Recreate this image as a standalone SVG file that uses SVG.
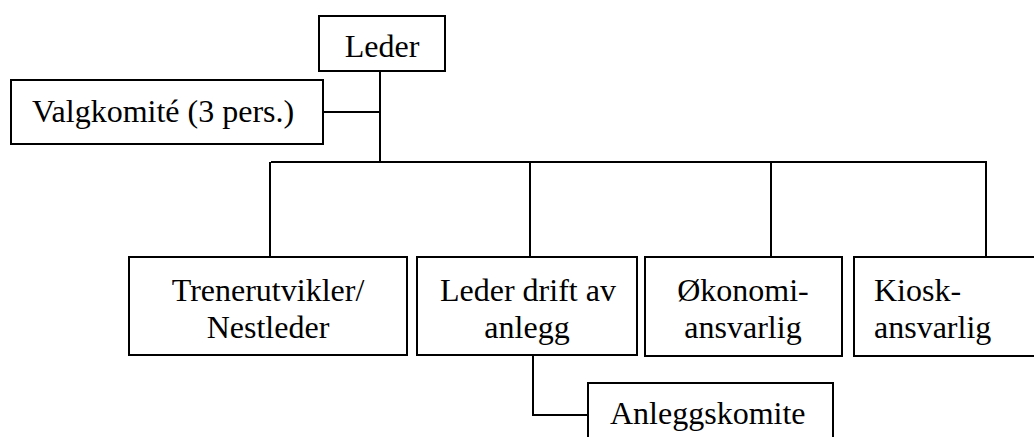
<svg xmlns="http://www.w3.org/2000/svg" width="1034" height="437" viewBox="0 0 1034 437">
<style>
.box{fill:#fff;stroke:#000;stroke-width:2}
.t{font-family:"Liberation Serif","Times New Roman",serif;font-size:32px;fill:#000}
.c{fill:none;stroke:#000;stroke-width:2}
</style>
<rect width="1034" height="437" fill="#fff"/>
<g id="connectors">
<path class="c" d="M380,71 V162"/>
<path class="c" d="M323,112 H380"/>
<path class="c" d="M271,162 H987"/>
<path class="c" d="M270,162 V257"/>
<path class="c" d="M530,162 V257"/>
<path class="c" d="M771,162 V257"/>
<path class="c" d="M986,162 V257"/>
<path class="c" d="M533,355 V415 H588"/>
</g>
<g id="leder">
<rect class="box" x="319" y="16" width="126" height="55"/>
<text class="t" x="382" y="57" text-anchor="middle">Leder</text>
</g>
<g id="valgkomite">
<rect class="box" x="11" y="80" width="312" height="64"/>
<text class="t" x="32" y="122">Valgkomité (3 pers.)</text>
</g>
<g id="trenerutvikler">
<rect class="box" x="129" y="257" width="278" height="98"/>
<text class="t" x="268" y="301" text-anchor="middle">Trenerutvikler/</text>
<text class="t" x="268" y="338" text-anchor="middle">Nestleder</text>
</g>
<g id="leder-drift">
<rect class="box" x="417" y="257" width="220" height="98"/>
<text class="t" x="440" y="301">Leder drift av</text>
<text class="t" x="527" y="338" text-anchor="middle">anlegg</text>
</g>
<g id="okonomi">
<rect class="box" x="645" y="257" width="197" height="99"/>
<text class="t" x="743" y="301" text-anchor="middle">Økonomi-</text>
<text class="t" x="743" y="338" text-anchor="middle">ansvarlig</text>
</g>
<g id="kiosk">
<rect class="box" x="854" y="257" width="190" height="99"/>
<text class="t" x="874" y="301">Kiosk-</text>
<text class="t" x="874" y="338">ansvarlig</text>
</g>
<g id="anleggskomite">
<rect class="box" x="588" y="383" width="245" height="70"/>
<text class="t" x="610" y="424">Anleggskomite</text>
</g>
</svg>
